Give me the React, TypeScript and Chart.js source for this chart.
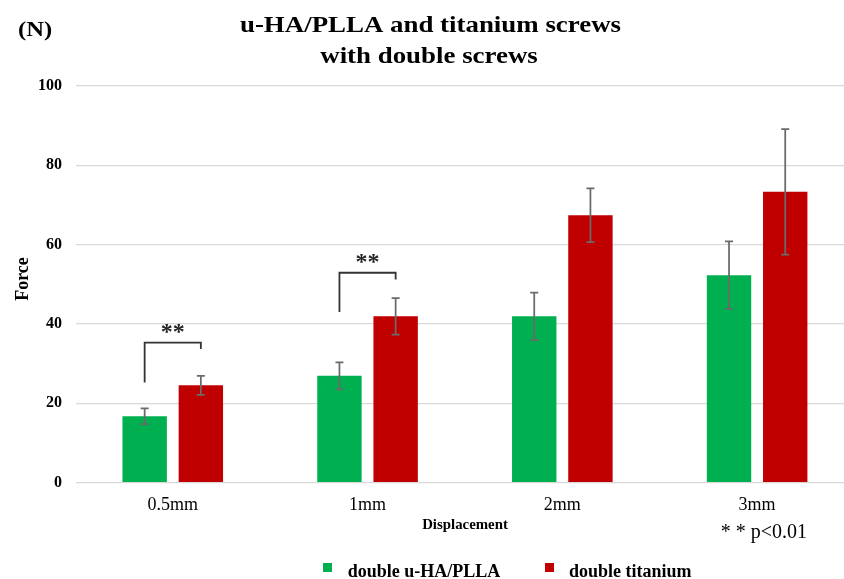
import { useEffect, useRef } from 'react';
import { Chart, registerables } from 'chart.js';

Chart.register(...registerables);

// Displacement steps and the mean force (N) measured at each one
const categories = ['0.5mm', '1mm', '2mm', '3mm'];
const uhaPllaForce = [16.7, 26.9, 41.9, 52.3];
const uhaPllaError = [2.0, 3.4, 6.0, 8.5];
const titaniumForce = [24.5, 41.9, 67.4, 73.3];
const titaniumError = [2.4, 4.6, 6.8, 15.8];
const seriesNames = ['double u-HA/PLLA', 'double titanium'];
const yTickValues = [0, 20, 40, 60, 80, 100];

// Significance brackets (p<0.01) between the two screw types
const sigCategory = [0, 1];
const sigBracketTop = [35.3, 52.9];
const sigLeftFoot = [25.2, 43.0];
const sigRightFoot = [33.7, 51.2];
const sigMark = '**';
const sigNote = '* * p<0.01';

const titleLines = ['u-HA/PLLA and titanium screws', 'with double screws'];
const unitLabel = '(N)';
const yTitle = 'Force';
const xTitle = 'Displacement';

const SERIF = "'Liberation Serif', 'Times New Roman', serif";
const GREEN = '#00B050';
const RED = '#C00000';
const seriesColors = [GREEN, RED];

function stretchedText(
  ctx: CanvasRenderingContext2D,
  text: string,
  x: number,
  y: number,
  sx: number,
) {
  ctx.save();
  ctx.translate(x, y);
  ctx.scale(sx, 1);
  ctx.fillText(text, 0, 0);
  ctx.restore();
}

const decorations = {
  id: 'decorations',
  afterDatasetsDraw(chart: any) {
    const ctx: CanvasRenderingContext2D = chart.ctx;
    const yScale = chart.scales.y;
    const values = [uhaPllaForce, titaniumForce];
    const errors = [uhaPllaError, titaniumError];

    // error bars
    ctx.save();
    ctx.strokeStyle = '#6A6A6A';
    ctx.lineWidth = 1.75;
    errors.forEach((errs, d) => {
      const meta = chart.getDatasetMeta(d);
      meta.data.forEach((bar: any, i: number) => {
        const x = bar.x;
        const top = yScale.getPixelForValue(values[d][i] + errs[i]);
        const bot = yScale.getPixelForValue(values[d][i] - errs[i]);
        ctx.beginPath();
        ctx.moveTo(x, top);
        ctx.lineTo(x, bot);
        ctx.moveTo(x - 4, top);
        ctx.lineTo(x + 4, top);
        ctx.moveTo(x - 4, bot);
        ctx.lineTo(x + 4, bot);
        ctx.stroke();
      });
    });

    // significance brackets
    ctx.strokeStyle = '#333333';
    ctx.fillStyle = '#262626';
    ctx.lineWidth = 1.8;
    ctx.font = `bold 24px ${SERIF}`;
    ctx.textAlign = 'center';
    ctx.textBaseline = 'alphabetic';
    sigCategory.forEach((c, k) => {
      const xl = chart.getDatasetMeta(0).data[c].x;
      const xr = chart.getDatasetMeta(1).data[c].x;
      const yt = yScale.getPixelForValue(sigBracketTop[k]);
      const yl = yScale.getPixelForValue(sigLeftFoot[k]);
      const yr = yScale.getPixelForValue(sigRightFoot[k]);
      ctx.beginPath();
      ctx.moveTo(xl, yl);
      ctx.lineTo(xl, yt);
      ctx.lineTo(xr, yt);
      ctx.lineTo(xr, yr);
      ctx.stroke();
      ctx.fillText(sigMark, (xl + xr) / 2, yt - 4);
    });
    ctx.restore();
  },
  afterDraw(chart: any) {
    const ctx: CanvasRenderingContext2D = chart.ctx;
    ctx.save();
    ctx.fillStyle = '#000';
    ctx.textBaseline = 'alphabetic';

    // title
    ctx.textAlign = 'center';
    ctx.font = `bold 24px ${SERIF}`;
    stretchedText(ctx, titleLines[0], 430.5, 32, 1.12);
    stretchedText(ctx, titleLines[1], 429, 63, 1.12);

    // unit
    ctx.textAlign = 'left';
    ctx.font = `bold 22px ${SERIF}`;
    stretchedText(ctx, unitLabel, 18, 36, 1.12);

    // y axis title
    ctx.save();
    ctx.translate(28, 279);
    ctx.rotate(-Math.PI / 2);
    ctx.textAlign = 'center';
    ctx.font = `bold 18px ${SERIF}`;
    ctx.fillText(yTitle, 0, 0);
    ctx.restore();

    // x axis title
    ctx.textAlign = 'center';
    ctx.font = `bold 14px ${SERIF}`;
    stretchedText(ctx, xTitle, 465, 529, 1.06);

    // significance note
    ctx.textAlign = 'left';
    ctx.font = `20px ${SERIF}`;
    ctx.fillText(sigNote, 720.7, 538);

    // legend
    const legendBoxX = [323, 545];
    const legendTextX = [347.7, 569];
    ctx.font = `bold 18px ${SERIF}`;
    seriesNames.forEach((name, i) => {
      ctx.fillStyle = seriesColors[i];
      ctx.fillRect(legendBoxX[i], 563, 9, 9);
      ctx.fillStyle = '#000';
      ctx.fillText(name, legendTextX[i], 577);
    });
    ctx.restore();
  },
};

export default function App() {
  const canvasRef = useRef<HTMLCanvasElement>(null);

  useEffect(() => {
    const canvas = canvasRef.current;
    if (!canvas) return;
    const chart = new Chart(canvas, {
      type: 'bar',
      data: {
        datasets: [
          {
            label: seriesNames[0],
            data: uhaPllaForce.map((v, i) => ({ x: i, y: v })),
            backgroundColor: GREEN,
            borderWidth: 0,
            categoryPercentage: 0.577,
            barPercentage: 0.79,
          },
          {
            label: seriesNames[1],
            data: titaniumForce.map((v, i) => ({ x: i, y: v })),
            backgroundColor: RED,
            borderWidth: 0,
            categoryPercentage: 0.577,
            barPercentage: 0.79,
          },
        ],
      },
      options: {
        responsive: false,
        maintainAspectRatio: false,
        animation: false,
        devicePixelRatio: 1,
        layout: { padding: { top: 86, left: 0, right: 0, bottom: 0 } },
        plugins: {
          legend: { display: false },
          title: { display: false },
          tooltip: { enabled: false },
        },
        scales: {
          x: {
            type: 'linear',
            min: -0.4967,
            max: 3.446,
            offset: false,
            grid: { display: false },
            border: { display: false },
            afterBuildTicks: (s: any) => {
              s.ticks = categories.map((_, i) => ({ value: i }));
            },
            afterFit: (s: any) => {
              s.height = 96.5;
            },
            ticks: {
              autoSkip: false,
              maxRotation: 0,
              padding: 4,
              color: '#000',
              font: { family: SERIF, size: 18 },
              callback: (v: any) => categories[v] ?? '',
            },
          },
          y: {
            min: 0,
            max: 100,
            afterBuildTicks: (s: any) => {
              s.ticks = yTickValues.map((v) => ({ value: v }));
            },
            afterFit: (s: any) => {
              s.width = 76;
            },
            grid: { color: '#D9D9D9', lineWidth: 1.25, drawTicks: false },
            border: { display: false },
            ticks: {
              padding: 14,
              color: '#000',
              font: { family: SERIF, size: 16, weight: 'bold' },
            },
          },
        },
      } as any,
      plugins: [decorations],
    });
    return () => chart.destroy();
  }, []);

  return (
    <div
      style={{
        position: 'fixed',
        left: 0,
        top: 0,
        width: 844,
        height: 579,
        background: '#fff',
      }}
    >
      <canvas ref={canvasRef} width={844} height={579} style={{ display: 'block' }} />
    </div>
  );
}
